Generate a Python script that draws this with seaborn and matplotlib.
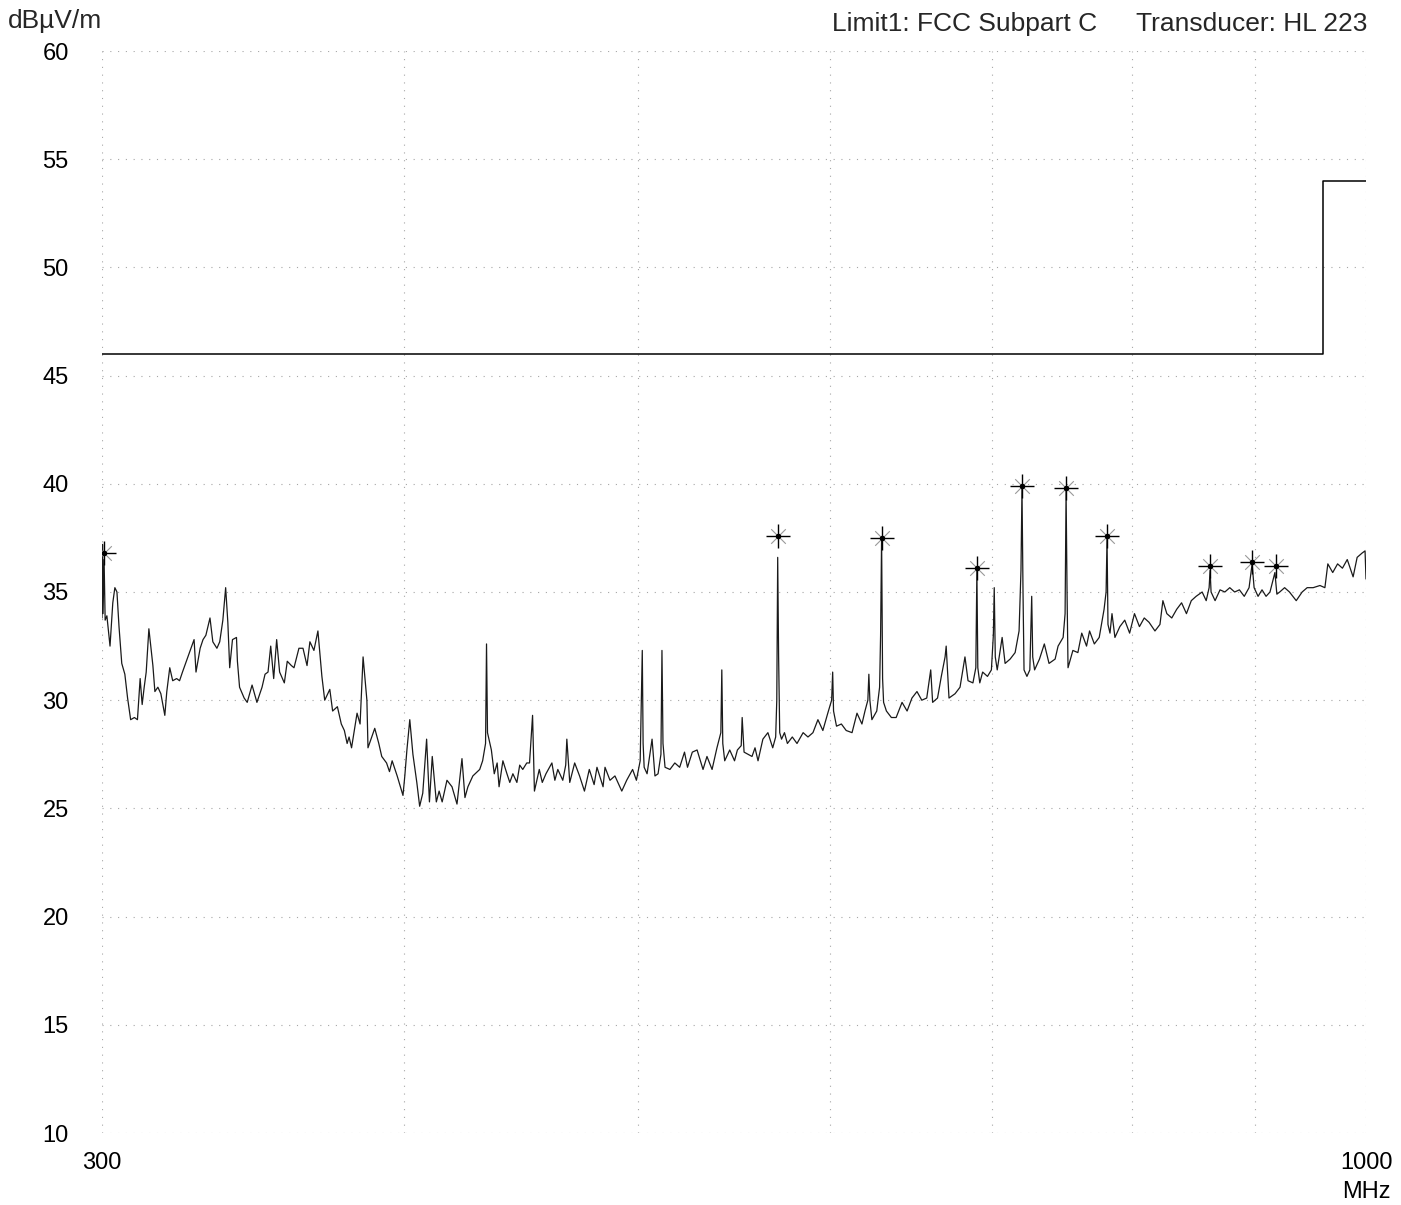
import numpy as np
import pandas as pd
import matplotlib
matplotlib.use("Agg")
import matplotlib.pyplot as plt
import matplotlib.ticker as mticker
import seaborn as sns

# ---------------- data ----------------
freq_mhz = [
    300.0, 300.15, 300.3, 300.6, 300.9, 301.4, 302.3, 303.1, 303.7, 304.3, 304.9, 305.7, 306.6, 307.4, 308.3,
    309.4, 310.3, 311.1, 311.7, 312.3, 312.9, 313.7, 314.9, 315.5, 316.4, 317.3, 318.5, 319.1, 320.0, 320.9,
    322.1, 323.0, 323.9, 325.1, 326.3, 327.5, 328.1, 329.4, 330.3, 331.2, 332.5, 333.4, 334.7, 335.6, 336.6,
    337.5, 338.2, 338.8, 339.7, 341.0, 341.3, 342.0, 343.5, 344.5, 346.1, 347.7, 349.4, 350.4, 351.4, 352.3,
    353.3, 354.3, 355.3, 356.9, 357.9, 359.3, 360.2, 361.9, 363.3, 364.7, 365.7, 367.1, 368.5, 369.9, 370.9,
    372.7, 373.7, 375.4, 376.8, 377.9, 378.9, 379.6, 380.5,
    382.5, 383.6, 384.7, 385.4, 386.1, 386.5, 387.9, 389.0, 390.5, 391.6, 393.4, 394.5, 395.5, 397.4, 399.6,
    400.3, 401.1, 402.2, 403.4, 404.9, 406.0, 407.2, 408.7, 409.8, 410.9, 412.5, 413.6, 414.8, 416.7, 418.7,
    420.7, 422.7, 423.9, 425.1, 427.1, 429.9, 431.1, 432.3, 432.7, 433.1, 434.7, 435.9, 437.1, 437.9, 439.5,
    441.2, 442.4, 443.7, 445.4, 446.6, 447.9, 449.6, 450.8, 452.1, 452.9, 455.0, 456.3, 457.9, 460.5, 461.8,
    463.1, 465.3, 466.6, 467.1, 468.4, 470.6, 472.8, 475.0, 477.2, 479.4, 480.7, 483.5,
    484.4, 486.7, 489.0, 492.2, 494.5, 497.3, 499.1, 500.9, 501.9, 502.3, 502.8, 504.2, 506.6, 508.0, 509.5,
    510.9, 511.4, 511.9, 512.9, 515.3, 517.7, 520.1, 522.5, 524.0, 526.4, 528.8, 531.8, 533.8, 536.4, 538.9,
    540.9, 541.4, 541.9, 542.9, 545.5, 548.0, 549.5, 551.5, 552.0, 553.0, 557.2, 558.8, 560.4, 563.0, 565.7,
    568.3, 569.9, 570.5, 571.0, 571.5, 572.1, 573.1, 574.7, 576.3, 579.0, 581.6, 585.0, 587.7, 590.5, 593.3,
    596.1, 598.9, 601.1, 601.7, 602.2, 603.9, 606.7, 609.5, 612.9,
    615.8, 618.7, 620.5, 622.2, 622.8, 623.4, 624.6, 627.5, 629.2, 629.8, 630.4, 631.0, 631.6, 633.3, 636.3,
    639.2, 642.8, 645.9, 648.9, 652.0, 655.0, 658.1, 660.6, 661.8, 664.9, 667.3, 669.7, 670.4, 672.2, 676.1,
    679.3, 682.5, 684.5, 687.7, 689.6, 690.3, 690.9, 692.2, 694.1, 697.3, 699.9, 701.2, 701.8, 702.5, 703.8,
    707.1, 709.1, 712.5, 715.9, 718.6, 719.9, 720.6, 721.3, 722.0, 724.0, 726.0, 727.3, 728.0, 729.3, 732.7,
    736.1, 739.4, 743.7, 745.8, 749.4, 750.8, 751.5, 752.2, 752.9, 756.4, 760.0, 762.8, 766.3, 768.5, 772.0,
    775.6, 779.2, 780.7, 781.4, 782.1,
    783.6, 785.1, 787.3, 791.0, 794.7, 798.4, 802.1, 805.9, 809.6, 813.3, 817.9, 821.8, 824.1, 827.2, 831.1,
    835.0, 838.9, 842.8, 846.7, 850.6, 855.5, 858.8, 861.2, 862.0, 862.8, 866.1, 870.2, 874.2, 878.3, 882.4,
    886.4, 890.5, 894.6, 897.2, 898.9, 902.3, 905.7, 909.2, 912.6, 916.9, 918.6, 921.1, 925.4, 929.7, 935.7,
    941.0, 945.5, 950.9, 957.1, 961.6, 964.3, 968.8, 973.3, 977.8, 982.3, 987.8, 991.6, 996.3, 999.1, 1000.0,
]
level_dbuv = [
    33.8, 37.2, 34.0, 36.5, 33.7, 33.9, 32.5, 34.5, 35.2, 35.0, 33.4, 31.7, 31.2, 30.1, 29.1,
    29.2, 29.1, 31.0, 29.8, 30.6, 31.3, 33.3, 31.6, 30.4, 30.6, 30.3, 29.3, 30.4, 31.5, 30.9,
    31.0, 30.9, 31.3, 31.8, 32.3, 32.8, 31.3, 32.4, 32.8, 33.0, 33.8, 32.7, 32.4, 32.7, 33.7,
    35.2, 33.6, 31.5, 32.8, 32.9, 31.8, 30.6, 30.1, 29.9, 30.7, 29.9, 30.6, 31.2, 31.3, 32.5,
    31.0, 32.8, 31.3, 30.8, 31.8, 31.6, 31.5, 32.4, 32.4, 31.6, 32.7, 32.3, 33.2, 31.1, 30.0,
    30.5, 29.5, 29.7, 28.9, 28.6, 28.0, 28.3, 27.8,
    29.4, 28.9, 32.0, 31.0, 30.0, 27.8, 28.3, 28.7, 28.0, 27.4, 27.1, 26.7, 27.2, 26.5, 25.6,
    26.5, 27.7, 29.1, 27.5, 26.2, 25.1, 25.7, 28.2, 25.3, 27.4, 25.3, 25.8, 25.3, 26.3, 26.0,
    25.2, 27.3, 25.5, 26.0, 26.5, 26.8, 27.2, 28.0, 32.6, 28.5, 27.7, 26.6, 27.1, 26.0, 27.2,
    26.6, 26.2, 26.6, 26.2, 27.0, 26.8, 27.1, 27.1, 29.3, 25.8, 26.8, 26.2, 26.6, 27.1, 26.3,
    26.8, 26.3, 27.0, 28.2, 26.2, 27.1, 26.5, 25.8, 26.8, 26.1, 26.9, 26.0,
    26.9, 26.3, 26.5, 25.8, 26.3, 26.8, 26.3, 27.2, 32.3, 28.0, 26.9, 26.6, 28.2, 26.5, 26.6,
    27.5, 32.3, 28.0, 26.9, 26.8, 27.1, 26.9, 27.6, 26.9, 27.6, 27.7, 26.8, 27.4, 26.8, 27.8,
    28.5, 31.4, 28.0, 27.2, 27.7, 27.2, 27.7, 27.9, 29.2, 27.6, 27.4, 27.8, 27.2, 28.2, 28.5,
    27.8, 28.3, 30.0, 36.6, 32.0, 28.5, 28.2, 28.5, 28.0, 28.3, 28.0, 28.5, 28.3, 28.5, 29.1,
    28.6, 29.4, 30.0, 31.3, 29.5, 28.8, 28.9, 28.6, 28.5,
    29.4, 28.9, 29.5, 30.0, 31.2, 30.0, 29.1, 29.5, 30.6, 33.0, 37.5, 31.0, 29.9, 29.5, 29.2,
    29.2, 29.9, 29.5, 30.1, 30.4, 30.0, 30.1, 31.4, 29.9, 30.1, 31.1, 32.0, 32.5, 30.1, 30.3,
    30.6, 32.0, 30.9, 30.8, 31.5, 36.0, 31.5, 30.8, 31.3, 31.1, 31.4, 33.0, 35.2, 32.0, 31.4,
    32.9, 31.7, 31.9, 32.2, 33.2, 36.0, 39.8, 35.0, 31.4, 31.1, 31.4, 34.8, 32.0, 31.4, 31.9,
    32.6, 31.7, 31.9, 32.5, 32.9, 34.0, 39.7, 35.0, 31.5, 32.3, 32.2, 33.1, 32.5, 33.2, 32.6,
    32.9, 34.2, 35.0, 37.5, 33.5,
    33.1, 34.0, 32.9, 33.4, 33.7, 33.1, 34.0, 33.4, 33.8, 33.6, 33.2, 33.5, 34.6, 34.0, 33.8,
    34.2, 34.5, 34.0, 34.6, 34.8, 35.0, 34.6, 35.2, 36.0, 35.0, 34.6, 35.1, 35.0, 35.2, 35.0,
    35.1, 34.8, 35.2, 36.3, 35.2, 34.8, 35.1, 34.8, 35.0, 35.9, 34.9, 35.0, 35.2, 35.0, 34.6,
    35.0, 35.2, 35.2, 35.3, 35.2, 36.3, 35.9, 36.3, 36.1, 36.5, 35.7, 36.6, 36.8, 36.9, 35.6,
]

limit_freq = [300.0, 960.0, 1000.0]
limit_level = [46.0, 54.0, 54.0]

marker_freq = [300.6, 571.0, 630.4, 690.3, 720.6, 751.5, 781.4, 862.0, 897.2, 917.7]
marker_level = [36.8, 37.6, 37.5, 36.1, 39.9, 39.8, 37.6, 36.2, 36.4, 36.2]

y_ticks = [10, 15, 20, 25, 30, 35, 40, 45, 50, 55, 60]
x_grid = [300, 400, 500, 600, 700, 800, 900, 1000]
x_tick_vals = [300, 1000]
x_tick_labels = ["300", "1000\nMHz"]

unit_label = "dBµV/m"
limit_text = "Limit1: FCC Subpart C"
transducer_text = "Transducer: HL 223"

# ---------------- plot ----------------
sns.set_theme(style="white")
plt.rcParams["font.family"] = ["Liberation Sans", "DejaVu Sans"]

fig = plt.figure(figsize=(14.01, 12.05), dpi=100)
ax = fig.add_axes([102 / 1401, 1 - 1133 / 1205, (1366 - 102) / 1401, (1133 - 51) / 1205])
ax.set_xscale("log")
ax.set_xlim(300, 1000)
ax.set_ylim(10, 60)

# faint dotted grid
for yv in y_ticks:
    ax.axhline(yv, color="0.65", lw=0.8, ls=(0, (1, 6)), zorder=0)
for xv in x_grid:
    ax.axvline(xv, color="0.65", lw=0.8, ls=(0, (1, 6)), zorder=0)

trace = pd.DataFrame({"f": freq_mhz, "lvl": level_dbuv})
sns.lineplot(data=trace, x="f", y="lvl", ax=ax, color="0.1", lw=0.9,
             sort=False, estimator=None, zorder=3)

lim = pd.DataFrame({"f": limit_freq, "lvl": limit_level})
sns.lineplot(data=lim, x="f", y="lvl", ax=ax, color="black", lw=1.1,
             drawstyle="steps-post", sort=False, estimator=None, zorder=4)

mk = pd.DataFrame({"f": marker_freq, "lvl": marker_level})
sns.scatterplot(data=mk, x="f", y="lvl", ax=ax, marker="x", s=110, color="0.6",
                linewidth=0.8, zorder=5)
sns.scatterplot(data=mk, x="f", y="lvl", ax=ax, marker="+", s=280, color="black",
                linewidth=1.0, zorder=6)
sns.scatterplot(data=mk, x="f", y="lvl", ax=ax, marker="o", s=16, color="black",
                linewidth=0, zorder=7)

for s in ax.spines.values():
    s.set_visible(False)

ax.set_yticks(y_ticks)
ax.set_yticklabels([str(v) for v in y_ticks])
ax.xaxis.set_minor_locator(mticker.NullLocator())
ax.xaxis.set_minor_formatter(mticker.NullFormatter())
ax.set_xticks(x_tick_vals)
ax.set_xticklabels(x_tick_labels)
ax.tick_params(axis="y", length=0, pad=24, labelsize=17, colors="black")
ax.tick_params(axis="x", length=0, pad=14, labelsize=17, colors="black")
ax.set_xlabel("")
ax.set_ylabel("")
for lbl in ax.get_xticklabels():
    lbl.set_linespacing(1.4)

fig.text(8 / 1401, 1 - 21 / 1205, unit_label, fontsize=19, ha="left", va="center")
fig.text(832 / 1401, 1 - 24 / 1205, limit_text, fontsize=19, ha="left", va="center")
fig.text(1367 / 1401, 1 - 24 / 1205, transducer_text, fontsize=19, ha="right", va="center")

fig.savefig("out.png", dpi=100, facecolor="white")
